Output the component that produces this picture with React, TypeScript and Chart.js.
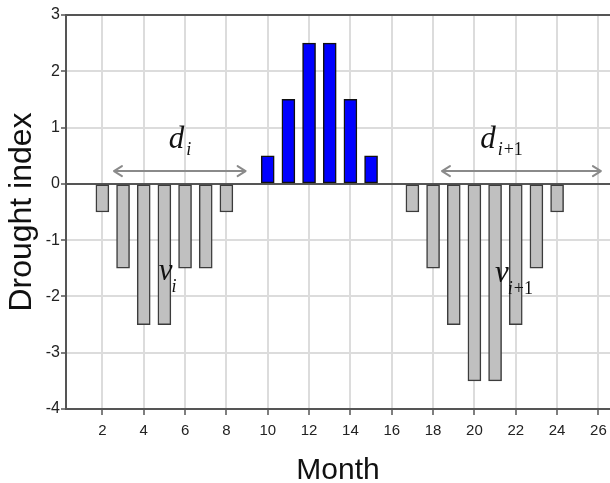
import React, { useEffect, useRef } from "react";
import { Chart, registerables } from "chart.js";

Chart.register(...registerables);

// ---- data ----
const months = [2, 3, 4, 5, 6, 7, 8, 10, 11, 12, 13, 14, 15, 17, 18, 19, 20, 21, 22, 23, 24];
const droughtIndex = [
  -0.5, -1.5, -2.5, -2.5, -1.5, -1.5, -0.5,
  0.5, 1.5, 2.5, 2.5, 1.5, 0.5,
  -0.5, -1.5, -2.5, -3.5, -3.5, -2.5, -1.5, -0.5,
];
const xTicks = [2, 4, 6, 8, 10, 12, 14, 16, 18, 20, 22, 24, 26];
const yTicks = [-4, -3, -2, -1, 0, 1, 2, 3];

// annotation data (in data coordinates)
const arrowStart = [2.56, 18.43];
const arrowEnd = [8.93, 26.12];
const arrowLevel = [0.227, 0.227];
const labelMain = ["d", "d", "v", "v"];
const labelSub = ["i", "i+1", "i", "i+1"];
const labelX = [5.21, 20.28, 4.73, 21.0];
const labelY = [0.63, 0.63, -1.71, -1.75];

const AXIS = "#555555";
const GRID = "#dcdcdc";

const annotationPlugin = {
  id: "annot",
  afterDatasetsDraw(chart: any) {
    const { ctx, scales } = chart;
    const xs = scales.x;
    const ys = scales.y;
    ctx.save();
    // arrows
    ctx.strokeStyle = "#8a8a8a";
    ctx.lineWidth = 2;
    ctx.lineCap = "round";
    ctx.lineJoin = "round";
    for (let i = 0; i < arrowStart.length; i++) {
      const x1 = xs.getPixelForValue(arrowStart[i]);
      const x2 = xs.getPixelForValue(arrowEnd[i]);
      const y = ys.getPixelForValue(arrowLevel[i]);
      ctx.beginPath();
      ctx.moveTo(x1, y);
      ctx.lineTo(x2, y);
      ctx.moveTo(x1 + 8, y - 5);
      ctx.lineTo(x1, y);
      ctx.lineTo(x1 + 8, y + 5);
      ctx.moveTo(x2 - 8, y - 5);
      ctx.lineTo(x2, y);
      ctx.lineTo(x2 - 8, y + 5);
      ctx.stroke();
    }
    // labels
    ctx.fillStyle = "#111";
    ctx.textBaseline = "alphabetic";
    ctx.textAlign = "left";
    for (let i = 0; i < labelMain.length; i++) {
      const x = xs.getPixelForValue(labelX[i]);
      const y = ys.getPixelForValue(labelY[i]);
      ctx.font = "italic 31px 'Liberation Serif', 'DejaVu Serif', serif";
      ctx.fillText(labelMain[i], x, y);
      const w = ctx.measureText(labelMain[i]).width;
      const drop = labelMain[i] === "d" ? 7 : 12;
      const gap = labelMain[i] === "d" ? 2 : -1;
      ctx.font = "italic 18px 'Liberation Serif', 'DejaVu Serif', serif";
      const sub = labelSub[i];
      if (sub.includes("+")) {
        const parts = sub.split("+");
        let cx = x + w + gap;
        ctx.fillText(parts[0], cx, y + drop);
        cx += ctx.measureText(parts[0]).width + 1;
        ctx.font = "18px 'Liberation Serif', 'DejaVu Serif', serif";
        ctx.fillText("+" + parts[1], cx, y + drop);
      } else {
        ctx.fillText(sub, x + w + gap, y + drop);
      }
    }
    ctx.restore();
  },
};

export default function App() {
  const ref = useRef<HTMLCanvasElement>(null);
  useEffect(() => {
    const canvas = ref.current!;
    const chart = new Chart(canvas, {
      type: "bar",
      data: {
        datasets: [
          {
            data: months.map((m, i) => ({ x: m, y: droughtIndex[i] })),
            backgroundColor: droughtIndex.map((v) => (v > 0 ? "#0000ff" : "#c0c0c0")),
            borderColor: droughtIndex.map((v) => (v > 0 ? "#111111" : "#3c3c3c")),
            borderWidth: 1.5,
            borderSkipped: false,
            barThickness: 13,
          } as any,
        ],
      },
      options: {
        animation: false,
        responsive: false,
        maintainAspectRatio: false,
        layout: { padding: { top: 15, right: 0, left: 0, bottom: 0 } },
        plugins: {
          legend: { display: false },
          tooltip: { enabled: false },
        },
        scales: {
          x: {
            type: "linear",
            min: 0.24,
            max: 26.56,
            offset: false,
            afterBuildTicks: (s: any) => {
              s.ticks = xTicks.map((v) => ({ value: v }));
            },
            afterFit: (s: any) => {
              s.height = 74;
              s.paddingLeft = 0;
              s.paddingRight = 0;
            },
            grid: {
              offset: false,
              color: GRID,
              lineWidth: 2,
              tickColor: AXIS,
              tickLength: 6,
              tickWidth: 1.5,
            },
            border: { color: AXIS, width: 2 },
            ticks: {
              color: "#222",
              padding: 7,
              maxRotation: 0,
              autoSkip: false,
              font: { family: "'Liberation Sans', Arial, sans-serif", size: 15 },
            },
            title: {
              display: true,
              text: "Month",
              color: "#111",
              padding: { top: 0, bottom: 0 },
              font: { family: "'Liberation Sans', Arial, sans-serif", size: 30, lineHeight: 0.85 },
            },
          },
          y: {
            min: -4,
            max: 3,
            afterBuildTicks: (s: any) => {
              s.ticks = yTicks.map((v) => ({ value: v }));
            },
            afterFit: (s: any) => {
              s.width = 66;
              s.paddingTop = 0;
              s.paddingBottom = 0;
            },
            grid: {
              color: (c: any) =>
                c.tick && (c.tick.value === 0 || c.tick.value === 3) ? AXIS : GRID,
              lineWidth: 2,
              tickColor: AXIS,
              tickLength: 5,
              tickWidth: 1.5,
            },
            border: { color: AXIS, width: 2 },
            ticks: {
              color: "#222",
              padding: 1,
              font: { family: "'Liberation Sans', Arial, sans-serif", size: 16 },
            },
            title: {
              display: true,
              text: "Drought index",
              color: "#111",
              padding: { top: 3, bottom: 0 },
              font: { family: "'Liberation Sans', Arial, sans-serif", size: 32, lineHeight: 1.2 },
            },
          },
        },
      } as any,
      plugins: [annotationPlugin],
    });
    return () => chart.destroy();
  }, []);
  return (
    <div style={{ position: "fixed", left: 0, top: 0, width: 610, height: 483, background: "#fff" }}>
      <canvas ref={ref} width={610} height={483} style={{ width: 610, height: 483, display: "block" }} />
    </div>
  );
}
